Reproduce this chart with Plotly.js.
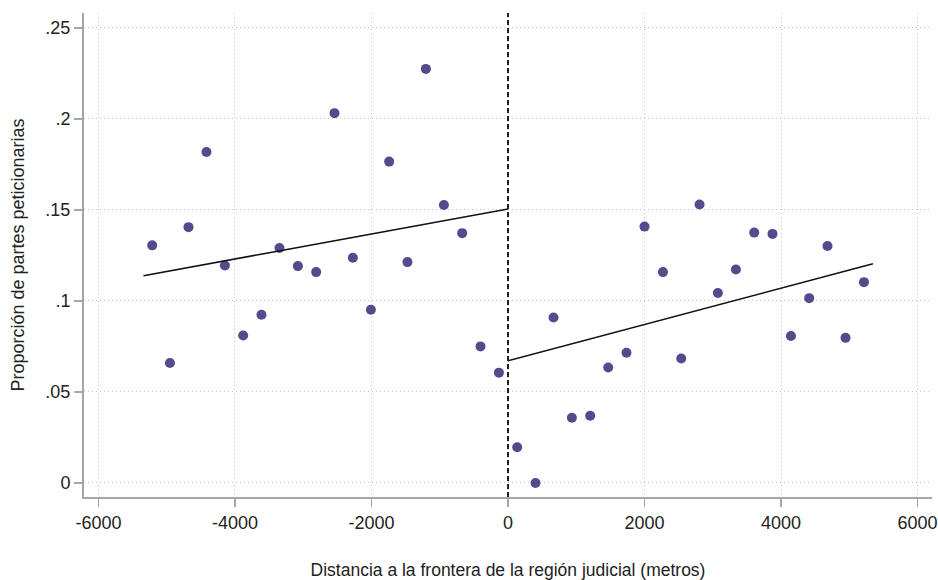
<!DOCTYPE html>
<html>
<head>
<meta charset="utf-8">
<script src="https://cdn.plot.ly/plotly-3.0.1.min.js"></script>
<style>html,body{margin:0;padding:0;background:#fff;}#chart{width:938px;height:580px;}</style>
</head>
<body>
<div id="chart"></div>
<script>
// Binned means, left of the border (negative distance)
const leftX = [-5213, -4953, -4681, -4418, -4148, -3880, -3612, -3348, -3078, -2810,
               -2542, -2273, -2009, -1741, -1473, -1203, -939, -671, -403, -133];
const leftY = [0.1305, 0.0659, 0.1405, 0.1818, 0.1194, 0.0810, 0.0924, 0.1290, 0.1191, 0.1158,
               0.2031, 0.1237, 0.0951, 0.1765, 0.1213, 0.2274, 0.1527, 0.1372, 0.0750, 0.0606];
// Binned means, right of the border
const rightX = [135, 403, 667, 936, 1204, 1468, 1736, 2000, 2270, 2538,
                2806, 3075, 3339, 3607, 3875, 4145, 4413, 4681, 4945, 5215];
const rightY = [0.0196, 0.0000, 0.0909, 0.0358, 0.0369, 0.0634, 0.0715, 0.1408, 0.1158, 0.0684,
                0.1529, 0.1043, 0.1172, 0.1375, 0.1368, 0.0807, 0.1015, 0.1301, 0.0797, 0.1103];
// Linear fits on each side
const fitLeftX = [-5341, 0];
const fitLeftY = [0.1138, 0.1505];
const fitRightX = [0, 5347];
const fitRightY = [0.0671, 0.1204];
// Axis ticks
const xTickVals = [-6000, -4000, -2000, 0, 2000, 4000, 6000];
const xTickText = ['-6000', '-4000', '-2000', '0', '2000', '4000', '6000'];
const yTickVals = [0, 0.05, 0.1, 0.15, 0.2, 0.25];
const yTickText = ['0', '.05', '.1', '.15', '.2', '.25'];

const SANS = "Arial, 'Liberation Sans', sans-serif";

const markerStyle = {color: '#564a8c', size: 10};
const traces = [
  {x: leftX, y: leftY, type: 'scatter', mode: 'markers', marker: markerStyle, showlegend: false, cliponaxis: false},
  {x: rightX, y: rightY, type: 'scatter', mode: 'markers', marker: markerStyle, showlegend: false, cliponaxis: false},
  {x: fitLeftX, y: fitLeftY, type: 'scatter', mode: 'lines', line: {color: '#111', width: 1.6}, showlegend: false},
  {x: fitRightX, y: fitRightY, type: 'scatter', mode: 'lines', line: {color: '#111', width: 1.6}, showlegend: false}
];

const gridStyle = {showgrid: true, gridcolor: '#c4c4c4', griddash: '1px,3px', gridwidth: 1};

const layout = {
  width: 938, height: 580,
  margin: {l: 84, r: 6, t: 13, b: 83},
  paper_bgcolor: '#fff', plot_bgcolor: '#fff',
  font: {family: SANS, color: '#222'},
  xaxis: Object.assign({
    range: [-6212, 6212],
    tickvals: xTickVals, ticktext: xTickText,
    zeroline: false,
    showline: true, linecolor: '#a6a6a6', linewidth: 2,
    ticks: 'outside', ticklen: 8, tickcolor: '#a6a6a6', tickwidth: 1.5,
    tickfont: {size: 18, family: SANS, color: '#222'},
    title: {text: 'Distancia a la frontera de la región judicial (metros)',
            font: {size: 17.5, family: SANS, color: '#222'},
            standoff: 36},
    automargin: false
  }, gridStyle),
  yaxis: Object.assign({
    range: [-0.0077, 0.2581],
    tickvals: yTickVals, ticktext: yTickText,
    zeroline: false,
    showline: true, linecolor: '#a6a6a6', linewidth: 2,
    ticks: 'outside', ticklen: 8, tickcolor: '#a6a6a6', tickwidth: 1.5,
    tickfont: {size: 18, family: SANS, color: '#222'},
    title: {text: 'Proporción de partes peticionarias',
            font: {size: 18, family: SANS, color: '#222'},
            standoff: 16},
    automargin: false
  }, gridStyle),
  shapes: [{
    type: 'line', xref: 'x', yref: 'paper', x0: 0, x1: 0, y0: 0, y1: 1,
    line: {color: '#222', width: 2, dash: '5px,3px'}
  }]
};

Plotly.newPlot('chart', traces, layout, {displayModeBar: false, staticPlot: true});
</script>
</body>
</html>
